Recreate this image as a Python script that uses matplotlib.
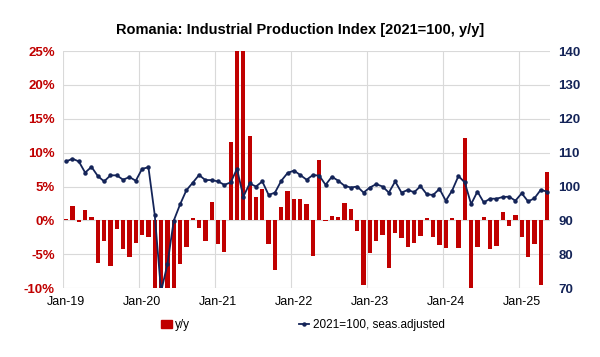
import numpy as np
import pandas as pd
from matplotlib import pyplot as plt
from matplotlib.lines import Line2D
from matplotlib.patches import Patch

plt.rcParams['font.family'] = ['Liberation Sans', 'DejaVu Sans']

# monthly, Jan-19 .. May-25
months = pd.date_range('2019-01-01', '2025-05-01', freq='MS')

yoy = [0.2, 2.1, -0.2, 1.6, 0.5, -6.3, -3.1, -6.8, -1.3, -4.3, -5.4, -3.4,
       -2.1, -2.4, -11.5, -37.5, -28.0, -12.0, -6.5, -3.9, 0.3, -1.2, -3.1, 2.7,
       -3.5, -4.7, 11.5, 54.0, 41.0, 12.5, 3.4, 4.6, -3.5, -7.3, 2.0, 4.4,
       3.2, 3.2, 2.4, -5.2, 8.9, -0.15, 0.7, 0.45, 2.6, 1.7, -1.5, -9.6,
       -4.8, -3.0, -2.2, -7.1, -1.8, -2.6, -3.9, -3.3, -2.3, 0.4, -2.5, -3.6,
       -4.1, 0.3, -4.1, 12.1, -10.3, -3.9, 0.5, -4.2, -3.8, 1.3, -0.8, 0.8,
       -2.4, -5.4, -3.5, -9.5, 7.2]

index_sa = [107.4, 108.2, 107.4, 104.1, 105.8, 103.1, 101.5, 103.3, 103.3, 102.0, 102.8, 101.7,
            105.2, 105.7, 91.6, 69.0, 77.0, 89.9, 94.7, 98.9, 101.1, 103.4, 101.9, 101.9,
            101.5, 100.5, 101.2, 105.2, 97.0, 100.9, 100.0, 101.5, 97.5, 98.2, 101.7, 104.0,
            104.7, 103.4, 102.0, 103.4, 103.2, 100.5, 102.9, 101.7, 100.2, 99.7, 100.0, 98.2,
            99.7, 100.7, 100.0, 98.2, 101.5, 98.2, 99.0, 98.3, 100.1, 97.7, 97.5, 99.3,
            95.8, 98.8, 103.1, 101.2, 94.8, 98.5, 95.3, 96.4, 96.4, 96.9, 97.0, 95.8,
            98.0, 95.6, 96.5, 99.0, 98.5]

red = '#C00000'
navy = '#142458'

x = np.arange(len(months))
jan = [i for i, m in enumerate(months) if m.month == 1]
jan_labels = [months[i].strftime('%b-%y') for i in jan]

fig = plt.figure(figsize=(6, 3.57), dpi=100)
ax = fig.add_axes([0.105, 0.193, 0.812, 0.664])
ax2 = ax.twinx()

ax.bar(x, yoy, width=0.68, color=red, zorder=2)
ax2.plot(x, index_sa, color=navy, lw=1.3, marker='o', ms=2.2, zorder=3)

ax.set_xlim(-0.5, len(x) - 0.5)
ax.set_ylim(-10, 25)
ax.set_yticks(np.arange(-10, 26, 5))
ax.set_yticklabels([f'{v}%' for v in range(-10, 26, 5)])
ax2.set_ylim(70, 140)
ax2.set_yticks(np.arange(70, 141, 10))

# gridlines: horizontal from left axis, vertical at start of each year
ax.grid(axis='y', color='#d9d9d9', lw=0.8, zorder=0)
for j in jan:
    ax.axvline(j - 0.5, color='#d9d9d9', lw=0.8, zorder=0)
ax.set_xticks(jan)
ax.set_xticklabels(jan_labels)

for a in (ax, ax2):
    for s in a.spines.values():
        s.set_visible(False)
    a.tick_params(length=0)

ax.tick_params(axis='y', colors=red, labelsize=9.5, pad=6)
ax.tick_params(axis='x', colors='black', labelsize=9, pad=6)
ax2.tick_params(axis='y', colors=navy, labelsize=9.5, pad=6)
for t in ax.get_yticklabels() + ax2.get_yticklabels():
    t.set_fontweight('bold')

fig.text(0.5, 0.915, 'Romania: Industrial Production Index [2021=100, y/y]',
         ha='center', va='center', fontsize=10.5, fontweight='bold')

handles = [Patch(color=red, label='y/y'),
           Line2D([], [], color=navy, lw=1.3, marker='o', ms=2.2,
                  label='2021=100, seas.adjusted')]
fig.legend(handles=handles, loc='center', bbox_to_anchor=(0.505, 0.09), ncol=2,
           frameon=False, fontsize=8.5, columnspacing=9.2, handlelength=0.9,
           handletextpad=0.3)

fig.savefig('out.png', dpi=100)
